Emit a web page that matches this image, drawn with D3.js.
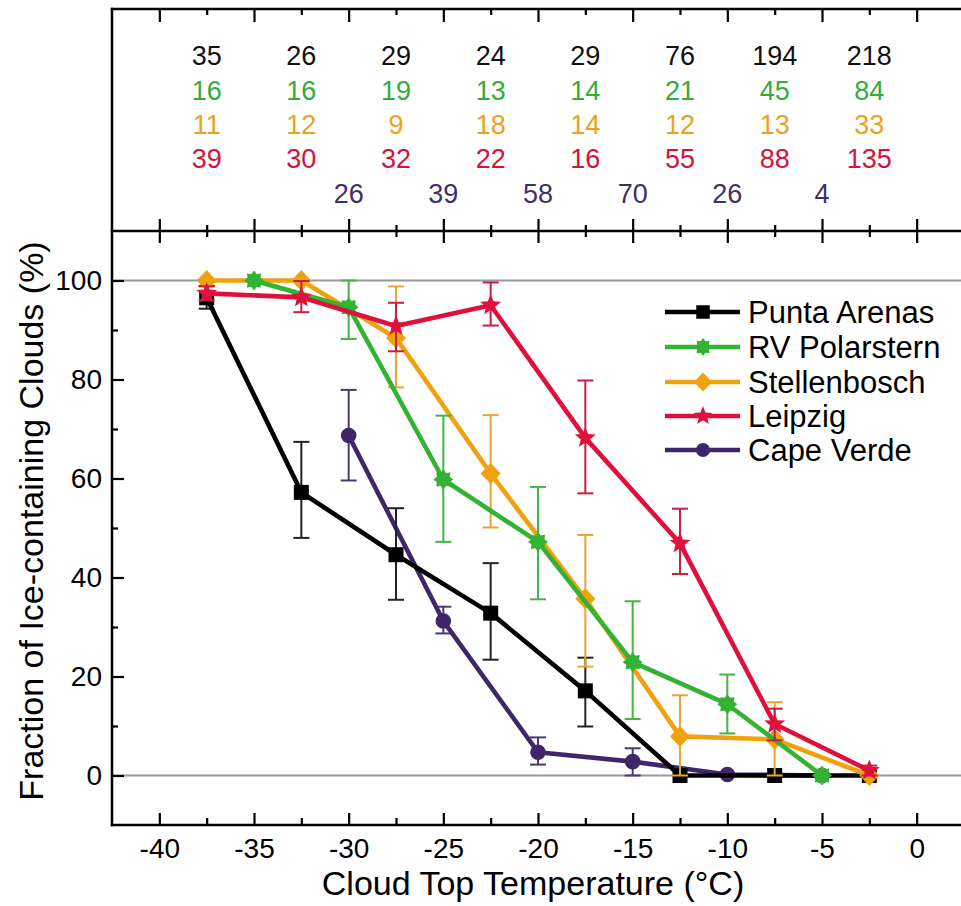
<!DOCTYPE html>
<html>
<head>
<meta charset="utf-8">
<script src="https://cdn.jsdelivr.net/npm/d3@7"></script>
<style>
html,body{margin:0;padding:0;background:#fff;}
svg{display:block;font-family:"Liberation Sans",Arial,sans-serif;}
</style>
</head>
<body>
<svg id="chart" width="961" height="906"></svg>
<script>
// ---------- DATA ----------
const binTemps = [-37.5, -32.5, -27.5, -22.5, -17.5, -12.5, -7.5, -2.5];
const cvTemps  = [-30, -25, -20, -15, -10, -5];
const rvTemps  = [-35, -30, -25, -20, -15, -10, -5];

const seriesNames = ["Punta Arenas", "RV Polarstern", "Stellenbosch", "Leipzig", "Cape Verde"];
const seriesColors = ["#000000", "#33b233", "#f0a20e", "#e0103c", "#3e2768"];
const errColors = ["#222222", "#45b445", "#e8a630", "#c81e40", "#4a3a72"];
const countColors = ["#111111", "#35ab3a", "#eaa21c", "#d2143c", "#40306a"];

const paValues = [96.5, 57.2, 44.6, 32.8, 17.1, 0, 0, 0];
const paLow    = [94.3, 48.0, 35.5, 23.4, 9.9, 0, 0, 0];
const paHigh   = [98.9, 67.4, 54.0, 42.9, 23.8, 0, 0, 0];

const rvValues = [100, 94.6, 59.8, 47.2, 22.9, 14.4, 0];
const rvLow    = [100, 88.2, 47.2, 35.6, 11.4, 8.5, 0];
const rvHigh   = [100, 100, 72.7, 58.3, 35.2, 20.4, 0];

const stValues = [100, 100, 88.4, 61.0, 35.7, 7.9, 7.3, 0];
const stLow    = [100, 100, 78.4, 50.1, 22.0, 0, 0, 0];
const stHigh   = [100, 100, 98.8, 72.8, 48.6, 16.2, 14.8, 0];

const lzValues = [97.4, 96.6, 90.8, 95.0, 68.2, 46.9, 10.4, 1.0];
const lzLow    = [96.0, 93.6, 85.7, 90.9, 57.0, 40.7, 7.1, 0];
const lzHigh   = [98.8, 99.9, 95.5, 99.6, 79.8, 53.9, 13.5, 2.0];

const cvValues = [68.7, 31.2, 4.7, 2.8, 0.2, 0];
const cvLow    = [59.6, 28.7, 2.2, 0, 0.2, 0];
const cvHigh   = [77.9, 34.1, 7.7, 5.5, 0.2, 0];

const paCounts = [35, 26, 29, 24, 29, 76, 194, 218];
const rvCounts = [16, 16, 19, 13, 14, 21, 45, 84];
const stCounts = [11, 12, 9, 18, 14, 12, 13, 33];
const lzCounts = [39, 30, 32, 22, 16, 55, 88, 135];
const cvCounts = [26, 39, 58, 70, 26, 4];

const xTickValues = [-40, -35, -30, -25, -20, -15, -10, -5, 0];
const xTickLabels = ["-40", "-35", "-30", "-25", "-20", "-15", "-10", "-5", "0"];
const xMinorValues = [-37.5, -32.5, -27.5, -22.5, -17.5, -12.5, -7.5, -2.5, 2.5];
const yTickValues = [0, 20, 40, 60, 80, 100];
const yTickLabels = ["0", "20", "40", "60", "80", "100"];
const yMinorValues = [-10, 10, 30, 50, 70, 90, 110];

const xTitle = "Cloud Top Temperature (°C)";
const yTitle = "Fraction of Ice-containing Clouds (%)";

// ---------- BUILD ----------
function zipSeries(xs, v, lo, hi) { return xs.map((t, i) => ({t, v: v[i], lo: lo[i], hi: hi[i]})); }
const series = [
  {name: seriesNames[0], data: zipSeries(binTemps, paValues, paLow, paHigh), counts: paCounts, countT: binTemps, marker: "square"},
  {name: seriesNames[1], data: zipSeries(rvTemps, rvValues, rvLow, rvHigh), counts: rvCounts, countT: binTemps, marker: "asterisk"},
  {name: seriesNames[2], data: zipSeries(binTemps, stValues, stLow, stHigh), counts: stCounts, countT: binTemps, marker: "diamond"},
  {name: seriesNames[3], data: zipSeries(binTemps, lzValues, lzLow, lzHigh), counts: lzCounts, countT: binTemps, marker: "star"},
  {name: seriesNames[4], data: zipSeries(cvTemps, cvValues, cvLow, cvHigh), counts: cvCounts, countT: cvTemps, marker: "circle"}
];
series.forEach((s, i) => { s.color = seriesColors[i]; s.err = errColors[i]; s.ccolor = countColors[i]; });

const svg = d3.select("#chart");
const left = 112, right = 964, plotTop = 231, plotBottom = 825, panelTop = 9;

const x = d3.scaleLinear().domain([-42.5, 2.5]).range([left, right]);
const y = d3.scaleLinear().domain([-10, 110]).range([plotBottom, plotTop]);

// reference lines
svg.append("g").selectAll("line").data([0, 100]).join("line")
  .attr("x1", left).attr("x2", right)
  .attr("y1", d => y(d)).attr("y2", d => y(d))
  .attr("stroke", "#9a9a9a").attr("stroke-width", 2);

// marker shapes
function markerPath(type, s) {
  const p = d3.path();
  if (type === "square") {
    const h = 7.5 * s; p.rect(-h, -h, 2 * h, 2 * h);
  } else if (type === "diamond") {
    const a = 10.5 * s, b = 10 * s;
    p.moveTo(0, -a); p.lineTo(b, 0); p.lineTo(0, a); p.lineTo(-b, 0); p.closePath();
  } else if (type === "star") {
    const R = 11 * s, r = 4.8 * s;
    for (let k = 0; k < 10; k++) {
      const ang = -Math.PI / 2 + k * Math.PI / 5, rr = k % 2 === 0 ? R : r;
      const px = rr * Math.cos(ang), py = rr * Math.sin(ang);
      if (k === 0) p.moveTo(px, py); else p.lineTo(px, py);
    }
    p.closePath();
  } else if (type === "asterisk") {
    const R = 10 * s, r = 7 * s, n = 8;
    for (let k = 0; k < 2 * n; k++) {
      const ang = -Math.PI / 2 + k * Math.PI / n, rr = k % 2 === 0 ? R : r;
      const px = rr * Math.cos(ang), py = rr * Math.sin(ang);
      if (k === 0) p.moveTo(px, py); else p.lineTo(px, py);
    }
    p.closePath();
  } else {
    p.arc(0, 0, 7.8 * s, 0, 2 * Math.PI);
  }
  return p.toString();
}

const line = d3.line().x(d => x(d.t)).y(d => y(d.v));
const drawOrder = [4, 0, 2, 1, 3];
const plotG = svg.append("g");
drawOrder.forEach(i => {
  const s = series[i];
  const g = plotG.append("g");
  const eb = s.data.filter(d => d.hi - d.lo > 0.5);
  g.selectAll("line.v").data(eb).join("line")
    .attr("x1", d => x(d.t)).attr("x2", d => x(d.t))
    .attr("y1", d => y(d.lo)).attr("y2", d => y(d.hi))
    .attr("stroke", s.err).attr("stroke-width", 2);
  ["lo", "hi"].forEach(k => {
    g.selectAll("line.c" + k).data(eb).join("line")
      .attr("x1", d => x(d.t) - 8).attr("x2", d => x(d.t) + 8)
      .attr("y1", d => y(d[k])).attr("y2", d => y(d[k]))
      .attr("stroke", s.err).attr("stroke-width", 2);
  });
  g.append("path").datum(s.data).attr("d", line)
    .attr("fill", "none").attr("stroke", s.color).attr("stroke-width", 4.6)
    .attr("stroke-linejoin", "round");
  g.selectAll("path.m").data(s.data).join("path")
    .attr("d", markerPath(s.marker, 1))
    .attr("transform", d => `translate(${x(d.t)},${y(d.v)})`)
    .attr("fill", s.color);
});

// counts in top panel
const rowY = [55, 90, 124, 158, 193];
series.forEach((s, i) => {
  svg.append("g").selectAll("text").data(s.counts).join("text")
    .attr("x", (d, j) => x(s.countT[j]))
    .attr("y", rowY[i]).attr("dy", "0.36em")
    .attr("text-anchor", "middle")
    .attr("font-size", 27).attr("fill", s.ccolor)
    .text(d => d);
});

// axes
const axG = svg.append("g");
function inwardAxis(gen, scale, vals, size, pos, isY) {
  const a = gen(scale).tickValues(vals).tickSizeInner(size).tickSizeOuter(0).tickFormat("");
  const g = axG.append("g").attr("transform", isY ? `translate(${pos},0)` : `translate(0,${pos})`).call(a);
  g.select(".domain").remove();
  g.selectAll(".tick line").attr("stroke", "#000").attr("stroke-width", 2.2);
  return g;
}
inwardAxis(d3.axisBottom, x, xTickValues, -12, plotBottom, false);
inwardAxis(d3.axisBottom, x, xMinorValues, -7, plotBottom, false);
inwardAxis(d3.axisTop, x, xTickValues, -12, plotTop, false);
inwardAxis(d3.axisTop, x, xMinorValues, -6, plotTop, false);
inwardAxis(d3.axisBottom, x, xTickValues, -12, plotTop, false);
inwardAxis(d3.axisBottom, x, xMinorValues, -6, plotTop, false);
inwardAxis(d3.axisTop, x, xTickValues, -13, panelTop, false);
inwardAxis(d3.axisTop, x, xMinorValues, -6, panelTop, false);
inwardAxis(d3.axisLeft, y, yTickValues, -12, left, true);
inwardAxis(d3.axisLeft, y, yMinorValues.filter(v => v > -10 && v < 110), -6, left, true);

// tick labels
const xl = d3.axisBottom(x).tickValues(xTickValues).tickSize(0).tickPadding(13)
  .tickFormat((d, i) => xTickLabels[i]);
const xlg = axG.append("g").attr("transform", `translate(0,${plotBottom})`).call(xl);
xlg.select(".domain").remove();
xlg.selectAll("text").attr("font-size", 28).attr("fill", "#000").attr("font-family", "Liberation Sans, Arial, sans-serif");

const yl = d3.axisLeft(y).tickValues(yTickValues).tickSize(0).tickPadding(10)
  .tickFormat((d, i) => yTickLabels[i]);
const ylg = axG.append("g").attr("transform", `translate(${left},0)`).call(yl);
ylg.select(".domain").remove();
ylg.selectAll("text").attr("font-size", 28).attr("fill", "#000").attr("font-family", "Liberation Sans, Arial, sans-serif");

// frame lines
const frame = [
  [left, panelTop, right, panelTop],
  [left, plotTop, right, plotTop],
  [left, plotBottom, right, plotBottom],
  [left, panelTop, left, plotBottom],
  [right, panelTop, right, plotBottom]
];
svg.append("g").selectAll("line").data(frame).join("line")
  .attr("x1", d => d[0]).attr("y1", d => d[1]).attr("x2", d => d[2]).attr("y2", d => d[3])
  .attr("stroke", "#000").attr("stroke-width", 2.5).attr("stroke-linecap", "square");

// titles
svg.append("text").attr("x", 533).attr("y", 895)
  .attr("text-anchor", "middle").attr("font-size", 34).text(xTitle);
svg.append("text").attr("transform", `translate(43,521) rotate(-90)`)
  .attr("text-anchor", "middle").attr("font-size", 34).text(yTitle);

// legend
const legY = [312, 347, 382, 416, 450];
const lg = svg.append("g");
series.forEach((s, i) => {
  const gy = legY[i];
  lg.append("line").attr("x1", 665).attr("x2", 740).attr("y1", gy).attr("y2", gy)
    .attr("stroke", s.color).attr("stroke-width", 4.6);
  lg.append("path").attr("d", markerPath(s.marker, 0.9))
    .attr("transform", `translate(703,${gy})`).attr("fill", s.color);
  lg.append("text").attr("x", 748).attr("y", gy).attr("dy", "0.36em")
    .attr("font-size", 31).attr("fill", "#000").text(s.name);
});
</script>
</body>
</html>
